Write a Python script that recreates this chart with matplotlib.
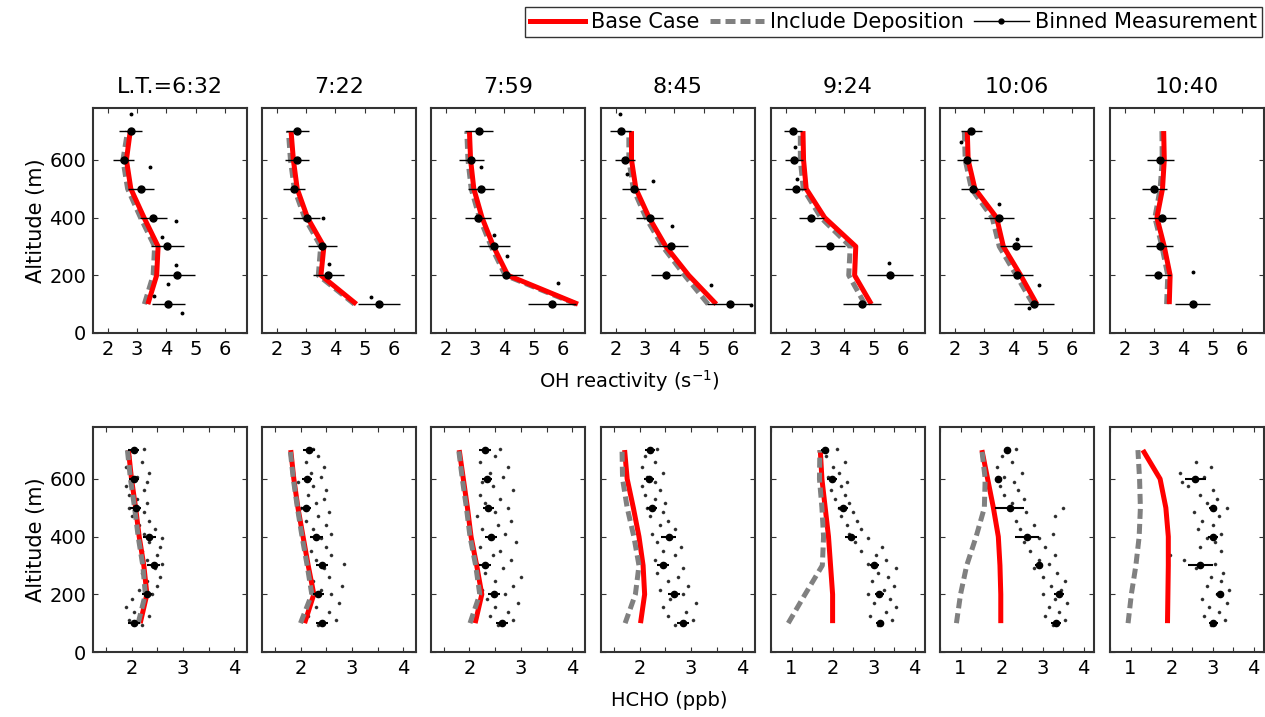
import numpy as np
import matplotlib
matplotlib.use('Agg')
import matplotlib.pyplot as plt
from matplotlib.lines import Line2D
from matplotlib.ticker import FixedLocator, FuncFormatter

fig_w, fig_h = 1265, 717

times = ['L.T.=6:32', '7:22', '7:59', '8:45', '9:24', '10:06', '10:40']
alt = [100, 200, 300, 400, 500, 600, 700]

#########################   OH REACTIVITY (s-1), alt 100 -> 700   ##########################
oh_base = [[3.37, 3.67, 3.72, 3.24, 2.79, 2.64, 2.77],
           [4.72, 3.51, 3.61, 3.05, 2.70, 2.57, 2.49],
           [6.51, 4.12, 3.63, 3.24, 2.96, 2.85, 2.81],
           [5.43, 4.49, 3.71, 3.14, 2.69, 2.54, 2.54],
           [4.92, 4.35, 4.39, 3.33, 2.70, 2.61, 2.59],
           [4.80, 4.25, 3.66, 3.43, 2.69, 2.46, 2.43],
           [3.52, 3.55, 3.35, 3.10, 3.29, 3.35, 3.33]]
oh_dep = [[3.25, 3.55, 3.60, 3.12, 2.68, 2.52, 2.68],
          [4.65, 3.42, 3.50, 2.95, 2.60, 2.47, 2.40],
          [6.45, 4.03, 3.55, 3.15, 2.87, 2.76, 2.72],
          [5.15, 4.35, 3.60, 3.03, 2.60, 2.45, 2.45],
          [4.70, 4.15, 4.20, 3.20, 2.60, 2.50, 2.50],
          [4.67, 4.10, 3.52, 3.28, 2.57, 2.36, 2.33],
          [3.43, 3.47, 3.27, 3.03, 3.21, 3.28, 3.27]]
oh_meas = [[4.06, 4.37, 4.03, 3.55, 3.15, 2.54, 2.79],
           [5.48, 3.76, 3.56, 3.02, 2.60, 2.70, 2.71],
           [5.63, 4.06, 3.66, 3.10, 3.21, 2.88, 3.13],
           [5.89, 3.71, 3.89, 3.17, 2.63, 2.31, 2.17],
           [4.60, 5.55, 3.50, 2.88, 2.34, 2.28, 2.25],
           [4.69, 4.11, 4.08, 3.51, 2.61, 2.43, 2.57],
           [4.32, 3.14, 3.20, 3.27, 3.01, 3.21, np.nan]]
oh_err = [[0.56, 0.62, 0.56, 0.46, 0.44, 0.35, 0.39],
          [0.72, 0.53, 0.48, 0.45, 0.38, 0.41, 0.40],
          [0.81, 0.57, 0.52, 0.43, 0.45, 0.43, 0.47],
          [0.77, 0.51, 0.58, 0.46, 0.41, 0.34, 0.35],
          [0.64, 0.78, 0.51, 0.43, 0.37, 0.31, 0.30],
          [0.68, 0.57, 0.54, 0.50, 0.38, 0.35, 0.37],
          [0.60, 0.44, 0.46, 0.47, 0.42, 0.46, np.nan]]
# the few single points
oh_pts_x = [[2.79, 3.46, 4.34, 3.86, 4.34, 4.06, 3.58, 4.54],
            [3.59, 3.78, 5.21],
            [3.22, 3.66, 4.08, 5.83],
            [2.15, 2.40, 3.26, 3.92, 5.26, 6.61],
            [2.31, 2.39, 5.52],
            [2.23, 3.52, 4.11, 4.89, 4.55],
            [4.32]]
oh_pts_alt = [[760, 577, 387, 334, 234, 170, 129, 68],
              [397, 238, 126],
              [574, 340, 266, 172],
              [758, 550, 527, 372, 166, 96],
              [645, 533, 243],
              [661, 447, 327, 166, 85],
              [210]]

#########################   HCHO (ppb), alt 100 -> 700   ##########################
hcho_base = [[2.17, 2.30, 2.24, 2.15, 2.08, 2.00, 1.94],
             [2.08, 2.26, 2.15, 2.05, 1.95, 1.87, 1.81],
             [2.11, 2.24, 2.14, 2.03, 1.96, 1.88, 1.80],
             [2.02, 2.10, 2.07, 1.99, 1.88, 1.76, 1.71],
             [2.00, 2.00, 1.95, 1.90, 1.82, 1.74, 1.70],
             [1.98, 1.98, 1.96, 1.92, 1.80, 1.66, 1.52],
             [1.90, 1.91, 1.92, 1.92, 1.86, 1.72, 1.30]]
hcho_dep = [[2.13, 2.27, 2.22, 2.13, 2.06, 1.98, 1.92],
            [2.00, 2.22, 2.13, 2.03, 1.94, 1.86, 1.80],
            [2.01, 2.20, 2.12, 2.01, 1.94, 1.86, 1.79],
            [1.72, 1.92, 1.99, 1.89, 1.76, 1.67, 1.66],
            [0.92, 1.33, 1.75, 1.78, 1.74, 1.68, 1.69],
            [0.90, 1.00, 1.15, 1.38, 1.58, 1.60, 1.52],
            [0.94, 1.02, 1.13, 1.21, 1.24, 1.22, 1.18]]
hcho_meas = [[2.05, 2.30, 2.43, 2.35, 2.08, 2.05, 2.04],
             [2.42, 2.35, 2.42, 2.31, 2.10, 2.13, 2.16],
             [2.63, 2.48, 2.30, 2.42, 2.37, 2.34, 2.30],
             [2.85, 2.67, 2.46, 2.57, 2.25, 2.18, 2.21],
             [3.16, 3.14, 3.02, 2.44, 2.26, 1.98, 1.82],
             [3.32, 3.40, 2.92, 2.62, 2.20, 1.92, 2.12],
             [3.02, 3.18, 2.70, 3.00, 3.00, 2.58, np.nan]]
hcho_err = [[0.12, 0.10, 0.12, 0.13, 0.10, 0.10, 0.10],
            [0.12, 0.10, 0.12, 0.12, 0.10, 0.10, 0.12],
            [0.12, 0.12, 0.12, 0.12, 0.10, 0.10, 0.12],
            [0.12, 0.12, 0.12, 0.15, 0.10, 0.10, 0.10],
            [0.10, 0.10, 0.12, 0.15, 0.12, 0.12, 0.10],
            [0.12, 0.12, 0.10, 0.30, 0.35, 0.08, 0.05],
            [0.12, 0.10, 0.30, 0.12, 0.10, 0.25, np.nan]]

# raw HCHO samples, one per altitude row
raw_alt = [95, 110, 125, 140, 155, 170, 185, 200, 215, 230, 245, 260, 275, 290, 305, 320, 335, 350, 365, 380,
           395, 410, 425, 440, 455, 470, 485, 500, 515, 530, 545, 560, 575, 590, 605, 620, 640, 660, 680, 705]
raw_x = [[2.20, 1.95, 2.35, 2.05, 1.90, 2.25, 2.00, 2.40, 2.15, 2.50, 2.30, 2.55, 2.20, 2.45, 2.60, 2.30, 2.50, 2.20, 2.55, 2.35,
          2.60, 2.25, 2.45, 2.15, 2.35, 2.00, 2.25, 1.95, 2.30, 2.10, 1.95, 2.25, 1.90, 2.30, 2.10, 2.35, 1.90, 2.20, 1.95, 2.25],
         [2.35, 2.70, 2.15, 2.55, 2.30, 2.75, 2.20, 2.60, 2.40, 2.80, 2.25, 2.55, 2.15, 2.45, 2.85, 2.30, 2.60, 2.20, 2.50, 2.05,
          2.40, 2.60, 2.25, 2.50, 2.10, 2.35, 2.55, 2.00, 2.30, 2.45, 2.15, 2.50, 2.25, 1.95, 2.40, 2.20, 2.45, 2.10, 2.35, 2.25],
         [2.55, 2.85, 2.40, 2.75, 2.50, 2.95, 2.35, 2.70, 2.25, 2.85, 2.50, 3.00, 2.30, 2.65, 2.15, 2.80, 2.45, 2.60, 2.20, 2.90,
          2.40, 2.70, 2.25, 2.55, 2.80, 2.15, 2.50, 2.75, 2.30, 2.60, 2.20, 2.85, 2.45, 2.25, 2.65, 2.40, 2.75, 2.20, 2.50, 2.60],
         [2.70, 3.05, 2.55, 2.90, 2.45, 3.10, 2.60, 2.85, 2.40, 2.95, 2.55, 2.75, 2.35, 2.85, 2.50, 2.30, 2.70, 2.45, 2.80, 2.35,
          2.60, 2.25, 2.70, 2.40, 2.55, 2.20, 2.45, 2.15, 2.50, 2.30, 2.10, 2.40, 2.05, 2.30, 2.15, 2.45, 2.05, 2.30, 2.10, 2.35],
         [3.10, 3.45, 2.90, 3.30, 3.55, 3.00, 3.40, 2.85, 3.25, 3.50, 2.95, 3.35, 3.10, 3.55, 2.85, 3.30, 3.05, 2.70, 3.20, 2.55,
          2.85, 2.40, 2.70, 2.35, 2.60, 2.20, 2.50, 2.15, 2.40, 2.05, 2.30, 1.95, 2.20, 2.35, 1.90, 2.15, 2.00, 2.30, 1.85, 2.10],
         [3.25, 3.55, 3.05, 3.40, 3.15, 3.60, 3.30, 3.00, 3.45, 3.20, 3.55, 3.00, 3.35, 2.80, 3.15, 2.90, 3.30, 2.70, 3.05, 2.55,
          2.90, 3.25, 2.45, 2.80, 2.35, 3.30, 2.60, 3.50, 2.25, 2.55, 2.05, 2.40, 1.95, 2.30, 2.05, 2.50, 1.90, 2.25, 2.00, 2.35],
         [2.95, 3.30, 2.80, 3.15, 2.90, 3.35, 2.75, 3.10, 3.40, 2.85, 3.20, 2.95, 3.25, 2.60, 3.05, 2.30, 1.95, 3.20, 2.70, 3.05,
          2.85, 3.20, 2.65, 3.00, 2.75, 3.15, 2.55, 3.35, 2.85, 3.10, 2.70, 3.00, 2.40, 2.25, 2.80, 2.20, 2.95, 2.60, np.nan, np.nan]]

# panel geometry in pixels
panel_left = [93, 262, 431, 601, 771, 940, 1110]
panel_w = 154
row_top = [108, 427]
panel_h = 225

oh_xlim = (1.5, 6.75)
hcho_xlim = [(1.25, 4.25)] * 4 + [(0.5, 4.25)] * 3
ylim = (0, 780)

red = '#ff0000'
gray = '#808080'
frame = '#333333'


def make_ax(fig, col, row):
    l = panel_left[col] / fig_w
    b = 1 - (row_top[row] + panel_h) / fig_h
    ax = fig.add_axes([l, b, panel_w / fig_w, panel_h / fig_h])
    for s in ax.spines.values():
        s.set_color(frame)
        s.set_linewidth(1.5)
    ax.tick_params(direction='in', top=True, right=True, length=3.5, width=0.8,
                   labelsize=14, pad=5, colors=frame, labelcolor='black')
    ax.set_ylim(*ylim)
    ax.set_yticks([0, 200, 400, 600])
    if col != 0:
        ax.set_yticklabels([])
    else:
        ax.set_ylabel('Altitude (m)', fontsize=15, labelpad=2)
    return ax


def draw_models(ax, base, dep, gray_on_top):
    zb, zd = (3, 4) if gray_on_top else (4, 3)
    ax.plot(base, alt, color=red, lw=3.6, zorder=zb, solid_capstyle='butt')
    ax.plot(dep, alt, color=gray, lw=3.6, dashes=(2, 1), zorder=zd)


def main():
    fig = plt.figure(figsize=(fig_w / 100, fig_h / 100), dpi=100)

    # top row: OH reactivity
    for i in range(7):
        ax = make_ax(fig, i, 0)
        draw_models(ax, oh_base[i], oh_dep[i], gray_on_top=False)
        ax.errorbar(oh_meas[i], alt, xerr=oh_err[i], fmt='o', color='black', ms=5,
                    elinewidth=1, capsize=0, zorder=5)
        ax.plot(oh_pts_x[i], oh_pts_alt[i], 'o', color='black', ms=1.8, zorder=5)
        ax.set_xlim(*oh_xlim)
        ax.set_xticks([2, 3, 4, 5, 6])
        ax.set_title(times[i], fontsize=16, pad=11)

    # bottom row: HCHO
    half_ticks = [0.5, 1, 1.5, 2, 2.5, 3, 3.5, 4]
    for i in range(7):
        ax = make_ax(fig, i, 1)
        ax.plot(raw_x[i], raw_alt, 'o', color='black', ms=1.6, alpha=0.7, zorder=2)
        draw_models(ax, hcho_base[i], hcho_dep[i], gray_on_top=True)
        ax.errorbar(hcho_meas[i], alt, xerr=hcho_err[i], fmt='o', color='black', ms=4.5,
                    elinewidth=1.5, capsize=0, zorder=5)
        ax.set_xlim(*hcho_xlim[i])
        ax.xaxis.set_major_locator(FixedLocator(half_ticks))
        ax.xaxis.set_major_formatter(FuncFormatter(
            lambda v, p: '%d' % v if abs(v - round(v)) < 1e-6 else ''))

    fig.text(629 / fig_w, 1 - 381 / fig_h, 'OH reactivity (s$^{-1}$)', fontsize=14,
             ha='center', va='center')
    fig.text(669 / fig_w, 1 - 700 / fig_h, 'HCHO (ppb)', fontsize=14,
             ha='center', va='center')

    handles = [Line2D([], [], color=red, lw=3.6),
               Line2D([], [], color=gray, lw=3.6, dashes=(2, 1)),
               Line2D([], [], color='black', lw=1, marker='o', ms=3.5)]
    labels = ['Base Case', 'Include Deposition', 'Binned Measurement']
    leg = fig.legend(handles, labels, loc='upper right', ncol=3,
                     bbox_to_anchor=(1262 / fig_w, 1 - 7 / fig_h),
                     fontsize=15, frameon=True, fancybox=False, edgecolor='black',
                     handlelength=2.6, handletextpad=0.3, columnspacing=0.5,
                     borderpad=0.25, borderaxespad=0)
    leg.get_frame().set_linewidth(1.0)

    fig.savefig('out.png', dpi=100)


if __name__ == "__main__":
    main()
